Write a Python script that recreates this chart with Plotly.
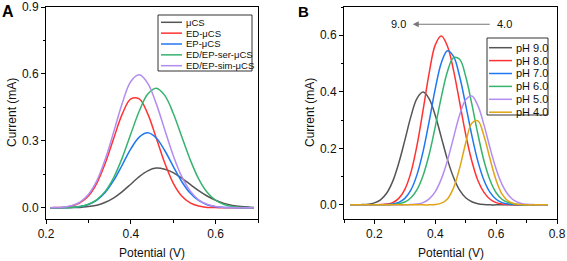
import plotly.graph_objects as go

W, H = 567, 261

# ---------------- Panel A data ----------------
xA = [0.21, 0.22, 0.24, 0.26, 0.28, 0.30, 0.32, 0.34, 0.36, 0.38, 0.40, 0.42, 0.44,
      0.46, 0.48, 0.50, 0.52, 0.54, 0.56, 0.58, 0.60, 0.62, 0.64, 0.66, 0.68, 0.69]
namesA = ["μCS", "ED-μCS", "EP-μCS", "ED/EP-ser-μCS", "ED/EP-sim-μCS"]
yA_muCS = [0.000, 0.000, 0.000, 0.001, 0.002, 0.006, 0.012, 0.025, 0.045, 0.073, 0.106, 0.140, 0.166,
           0.178, 0.173, 0.158, 0.133, 0.105, 0.077, 0.053, 0.034, 0.020, 0.011, 0.006, 0.003, 0.002]
yA_ED = [0.000, 0.001, 0.002, 0.008, 0.022, 0.053, 0.111, 0.201, 0.313, 0.421, 0.488, 0.488, 0.421,
         0.313, 0.201, 0.111, 0.053, 0.022, 0.008, 0.002, 0.001, 0.000, 0.000, 0.000, 0.000, 0.000]
yA_EP = [0.000, 0.000, 0.001, 0.002, 0.006, 0.015, 0.035, 0.070, 0.124, 0.193, 0.264, 0.317, 0.336,
         0.313, 0.257, 0.186, 0.118, 0.066, 0.033, 0.014, 0.005, 0.002, 0.001, 0.000, 0.000, 0.000]
yA_ser = [0.000, 0.000, 0.001, 0.002, 0.006, 0.016, 0.037, 0.075, 0.137, 0.225, 0.331, 0.434, 0.510,
          0.536, 0.504, 0.424, 0.320, 0.216, 0.130, 0.070, 0.034, 0.015, 0.006, 0.002, 0.001, 0.000]
yA_sim = [0.000, 0.001, 0.003, 0.010, 0.026, 0.060, 0.122, 0.219, 0.342, 0.470, 0.566, 0.596, 0.558,
          0.467, 0.350, 0.235, 0.141, 0.076, 0.036, 0.016, 0.006, 0.002, 0.001, 0.000, 0.000, 0.000]
seriesA = [yA_muCS, yA_ED, yA_EP, yA_ser, yA_sim]
colorsA = ["#555555", "#ff3333", "#1f78f0", "#36b36e", "#b48cf0"]

# ---------------- Panel B data ----------------
xB = [0.12, 0.14, 0.16, 0.18, 0.20, 0.22, 0.24, 0.26, 0.28, 0.30, 0.32, 0.34, 0.36, 0.38, 0.40,
      0.42, 0.44, 0.46, 0.48, 0.50, 0.52, 0.54, 0.56, 0.58, 0.60, 0.62, 0.64, 0.66, 0.68, 0.70,
      0.72, 0.74, 0.76, 0.77]
namesB = ["pH 9.0", "pH 8.0", "pH 7.0", "pH 6.0", "pH 5.0", "pH 4.0"]
yB_90 = [0, 0, 0.001, 0.002, 0.007, 0.018, 0.041, 0.083, 0.148, 0.229, 0.313, 0.377, 0.399, 0.375, 0.316,
         0.238, 0.160, 0.097, 0.052, 0.025, 0.011, 0.004, 0.001, 0, 0, 0, 0, 0, 0, 0,
         0, 0, 0, 0]
yB_80 = [0, 0, 0, 0, 0, 0.001, 0.003, 0.008, 0.023, 0.055, 0.115, 0.211, 0.336, 0.467, 0.566,
         0.597, 0.561, 0.476, 0.363, 0.249, 0.155, 0.086, 0.044, 0.020, 0.008, 0.003, 0.001, 0, 0, 0,
         0, 0, 0, 0]
yB_70 = [0, 0, 0, 0, 0, 0, 0.001, 0.003, 0.009, 0.023, 0.053, 0.107, 0.189, 0.296, 0.411,
         0.503, 0.545, 0.525, 0.454, 0.353, 0.246, 0.154, 0.087, 0.044, 0.020, 0.008, 0.003, 0.001, 0, 0,
         0, 0, 0, 0]
yB_60 = [0, 0, 0, 0, 0, 0, 0, 0.001, 0.004, 0.010, 0.025, 0.054, 0.104, 0.179, 0.277,
         0.382, 0.472, 0.521, 0.515, 0.454, 0.357, 0.250, 0.156, 0.087, 0.043, 0.019, 0.008, 0.003, 0.001, 0,
         0, 0, 0, 0]
yB_50 = [0, 0, 0, 0, 0, 0, 0, 0, 0, 0, 0.001, 0.003, 0.008, 0.021, 0.047,
         0.092, 0.157, 0.238, 0.318, 0.372, 0.385, 0.351, 0.283, 0.201, 0.127, 0.071, 0.035, 0.015, 0.006, 0.002,
         0.001, 0, 0, 0]
yB_40 = [0, 0, 0, 0, 0, 0, 0, 0, 0, 0, 0, 0, 0, 0, 0.001,
         0.006, 0.021, 0.060, 0.130, 0.219, 0.289, 0.297, 0.244, 0.162, 0.087, 0.037, 0.013, 0.004, 0.001, 0,
         0, 0, 0, 0]
seriesB = [yB_90, yB_80, yB_70, yB_60, yB_50, yB_40]
colorsB = ["#555555", "#ff3333", "#1f78f0", "#36b36e", "#b48cf0", "#e0a515"]

arrow_labels = ["9.0", "4.0"]

FONT = "Arial, Liberation Sans, sans-serif"


def px(x):
    return x / W


def py(y):
    return 1 - y / H


fig = go.Figure()
for ys, c, n in zip(seriesA, colorsA, namesA):
    fig.add_trace(go.Scatter(x=xA, y=ys, mode="lines", name=n, showlegend=False, hoverinfo="skip",
                             line=dict(color=c, width=1.5, shape="spline", smoothing=1.0),
                             xaxis="x", yaxis="y"))
for ys, c, n in zip(seriesB, colorsB, namesB):
    fig.add_trace(go.Scatter(x=xB, y=ys, mode="lines", name=n, showlegend=False, hoverinfo="skip",
                             line=dict(color=c, width=1.5, shape="spline", smoothing=1.0),
                             xaxis="x2", yaxis="y2"))

domA = [px(46), px(258)]
domB = [px(344), px(557)]
domY = [py(219), py(7)]


def main_axis(domain, rng, dtick, tick0, minor_dtick, anchor):
    return dict(domain=domain, range=rng, dtick=dtick, tick0=tick0, anchor=anchor, automargin=False,
                showline=True, linecolor="black", linewidth=1, mirror=True,
                ticks="outside", ticklen=4, tickwidth=1, tickcolor="black",
                minor=dict(ticks="outside", dtick=minor_dtick, ticklen=2.5, tickcolor="black", tickwidth=1),
                showgrid=False, zeroline=False, tickformat=".1f",
                tickfont=dict(family=FONT, size=12, color="#111"))


def over_axis(rng, dtick, tick0, minor_dtick, overlay, anchor, side):
    return dict(range=rng, dtick=dtick, tick0=tick0, overlaying=overlay, anchor=anchor, side=side,
                automargin=False,
                showline=False, ticks="inside", ticklen=4, tickwidth=1, tickcolor="black",
                minor=dict(ticks="inside", dtick=minor_dtick, ticklen=2.5, tickcolor="black", tickwidth=1),
                showticklabels=False, showgrid=False, zeroline=False)


fig.update_layout(
    width=W, height=H, margin=dict(l=0, r=0, t=0, b=0, pad=0, autoexpand=False),
    paper_bgcolor="white", plot_bgcolor="white", showlegend=False,
    xaxis=main_axis(domA, [0.2, 0.7], 0.2, 0.2, 0.1, "y"),
    yaxis=main_axis(domY, [-0.05, 0.9], 0.3, 0, 0.15, "x"),
    xaxis2=main_axis(domB, [0.1, 0.8], 0.2, 0, 0.1, "y2"),
    yaxis2=main_axis(domY, [-0.05, 0.7], 0.2, 0, 0.1, "x2"),
    xaxis3=over_axis([0.2, 0.7], 0.2, 0.2, 0.1, "x", "y", "top"),
    yaxis3=over_axis([-0.05, 0.9], 0.3, 0, 0.15, "y", "x", "right"),
    xaxis4=over_axis([0.1, 0.8], 0.2, 0, 0.1, "x2", "y2", "top"),
    yaxis4=over_axis([-0.05, 0.7], 0.2, 0, 0.1, "y2", "x2", "right"),
)

ann = []
shapes = []
# panel letters
ann.append(dict(text="<b>A</b>", x=px(7.5), y=py(11.5), xref="paper", yref="paper", showarrow=False,
                xanchor="center", yanchor="middle", font=dict(family=FONT, size=16, color="black")))
ann.append(dict(text="<b>B</b>", x=px(303), y=py(12), xref="paper", yref="paper", showarrow=False,
                xanchor="center", yanchor="middle", font=dict(family=FONT, size=15, color="black")))
# axis titles
for cx in (152, 450.5):
    ann.append(dict(text="Potential (V)", x=px(cx), y=py(253), xref="paper", yref="paper", showarrow=False,
                    xanchor="center", yanchor="middle", font=dict(family=FONT, size=12, color="#111")))
for cx in (12, 310):
    ann.append(dict(text="Current (mA)", x=px(cx), y=py(113), xref="paper", yref="paper", showarrow=False,
                    textangle=-90, xanchor="center", yanchor="middle",
                    font=dict(family=FONT, size=12, color="#111")))

# manual legend A
shapes.append(dict(type="rect", xref="paper", yref="paper", x0=px(158), x1=px(252), y0=py(71), y1=py(15),
                   line=dict(color="#333", width=1), fillcolor="white", layer="above"))
for i, (n, c) in enumerate(zip(namesA, colorsA)):
    yy = 22.3 + i * 10.85
    shapes.append(dict(type="line", xref="paper", yref="paper", x0=px(161), x1=px(182), y0=py(yy), y1=py(yy),
                       line=dict(color=c, width=1.5), layer="above"))
    ann.append(dict(text=n, x=px(183.5), y=py(yy), xref="paper", yref="paper", showarrow=False,
                    xanchor="left", yanchor="middle", font=dict(family=FONT, size=9.5, color="#111")))

# manual legend B
shapes.append(dict(type="rect", xref="paper", yref="paper", x0=px(487), x1=px(548), y0=py(115), y1=py(38),
                   line=dict(color="#333", width=1), fillcolor="white", layer="above"))
for i, (n, c) in enumerate(zip(namesB, colorsB)):
    yy = 47.7 + i * 12.9
    shapes.append(dict(type="line", xref="paper", yref="paper", x0=px(489), x1=px(512), y0=py(yy), y1=py(yy),
                       line=dict(color=c, width=1.5), layer="above"))
    ann.append(dict(text=n, x=px(514), y=py(yy), xref="paper", yref="paper", showarrow=False,
                    xanchor="left", yanchor="middle", font=dict(family=FONT, size=11, color="#111")))

# arrow annotation in B
ann.append(dict(x=0.326, y=0.639, ax=0.584, ay=0.639, xref="x2", yref="y2", axref="x2", ayref="y2",
                text="", showarrow=True, arrowhead=2, arrowsize=1, arrowwidth=1.2, arrowcolor="#777"))
ann.append(dict(text=arrow_labels[0], x=0.280, y=0.639, xref="x2", yref="y2", showarrow=False,
                xanchor="center", yanchor="middle", font=dict(family=FONT, size=11, color="#111")))
ann.append(dict(text=arrow_labels[1], x=0.628, y=0.639, xref="x2", yref="y2", showarrow=False,
                xanchor="center", yanchor="middle", font=dict(family=FONT, size=11, color="#111")))

fig.update_layout(annotations=ann, shapes=shapes)
fig.write_html("out.html", config={"displayModeBar": False, "staticPlot": True},
               post_script="document.body.style.margin='0px';")
